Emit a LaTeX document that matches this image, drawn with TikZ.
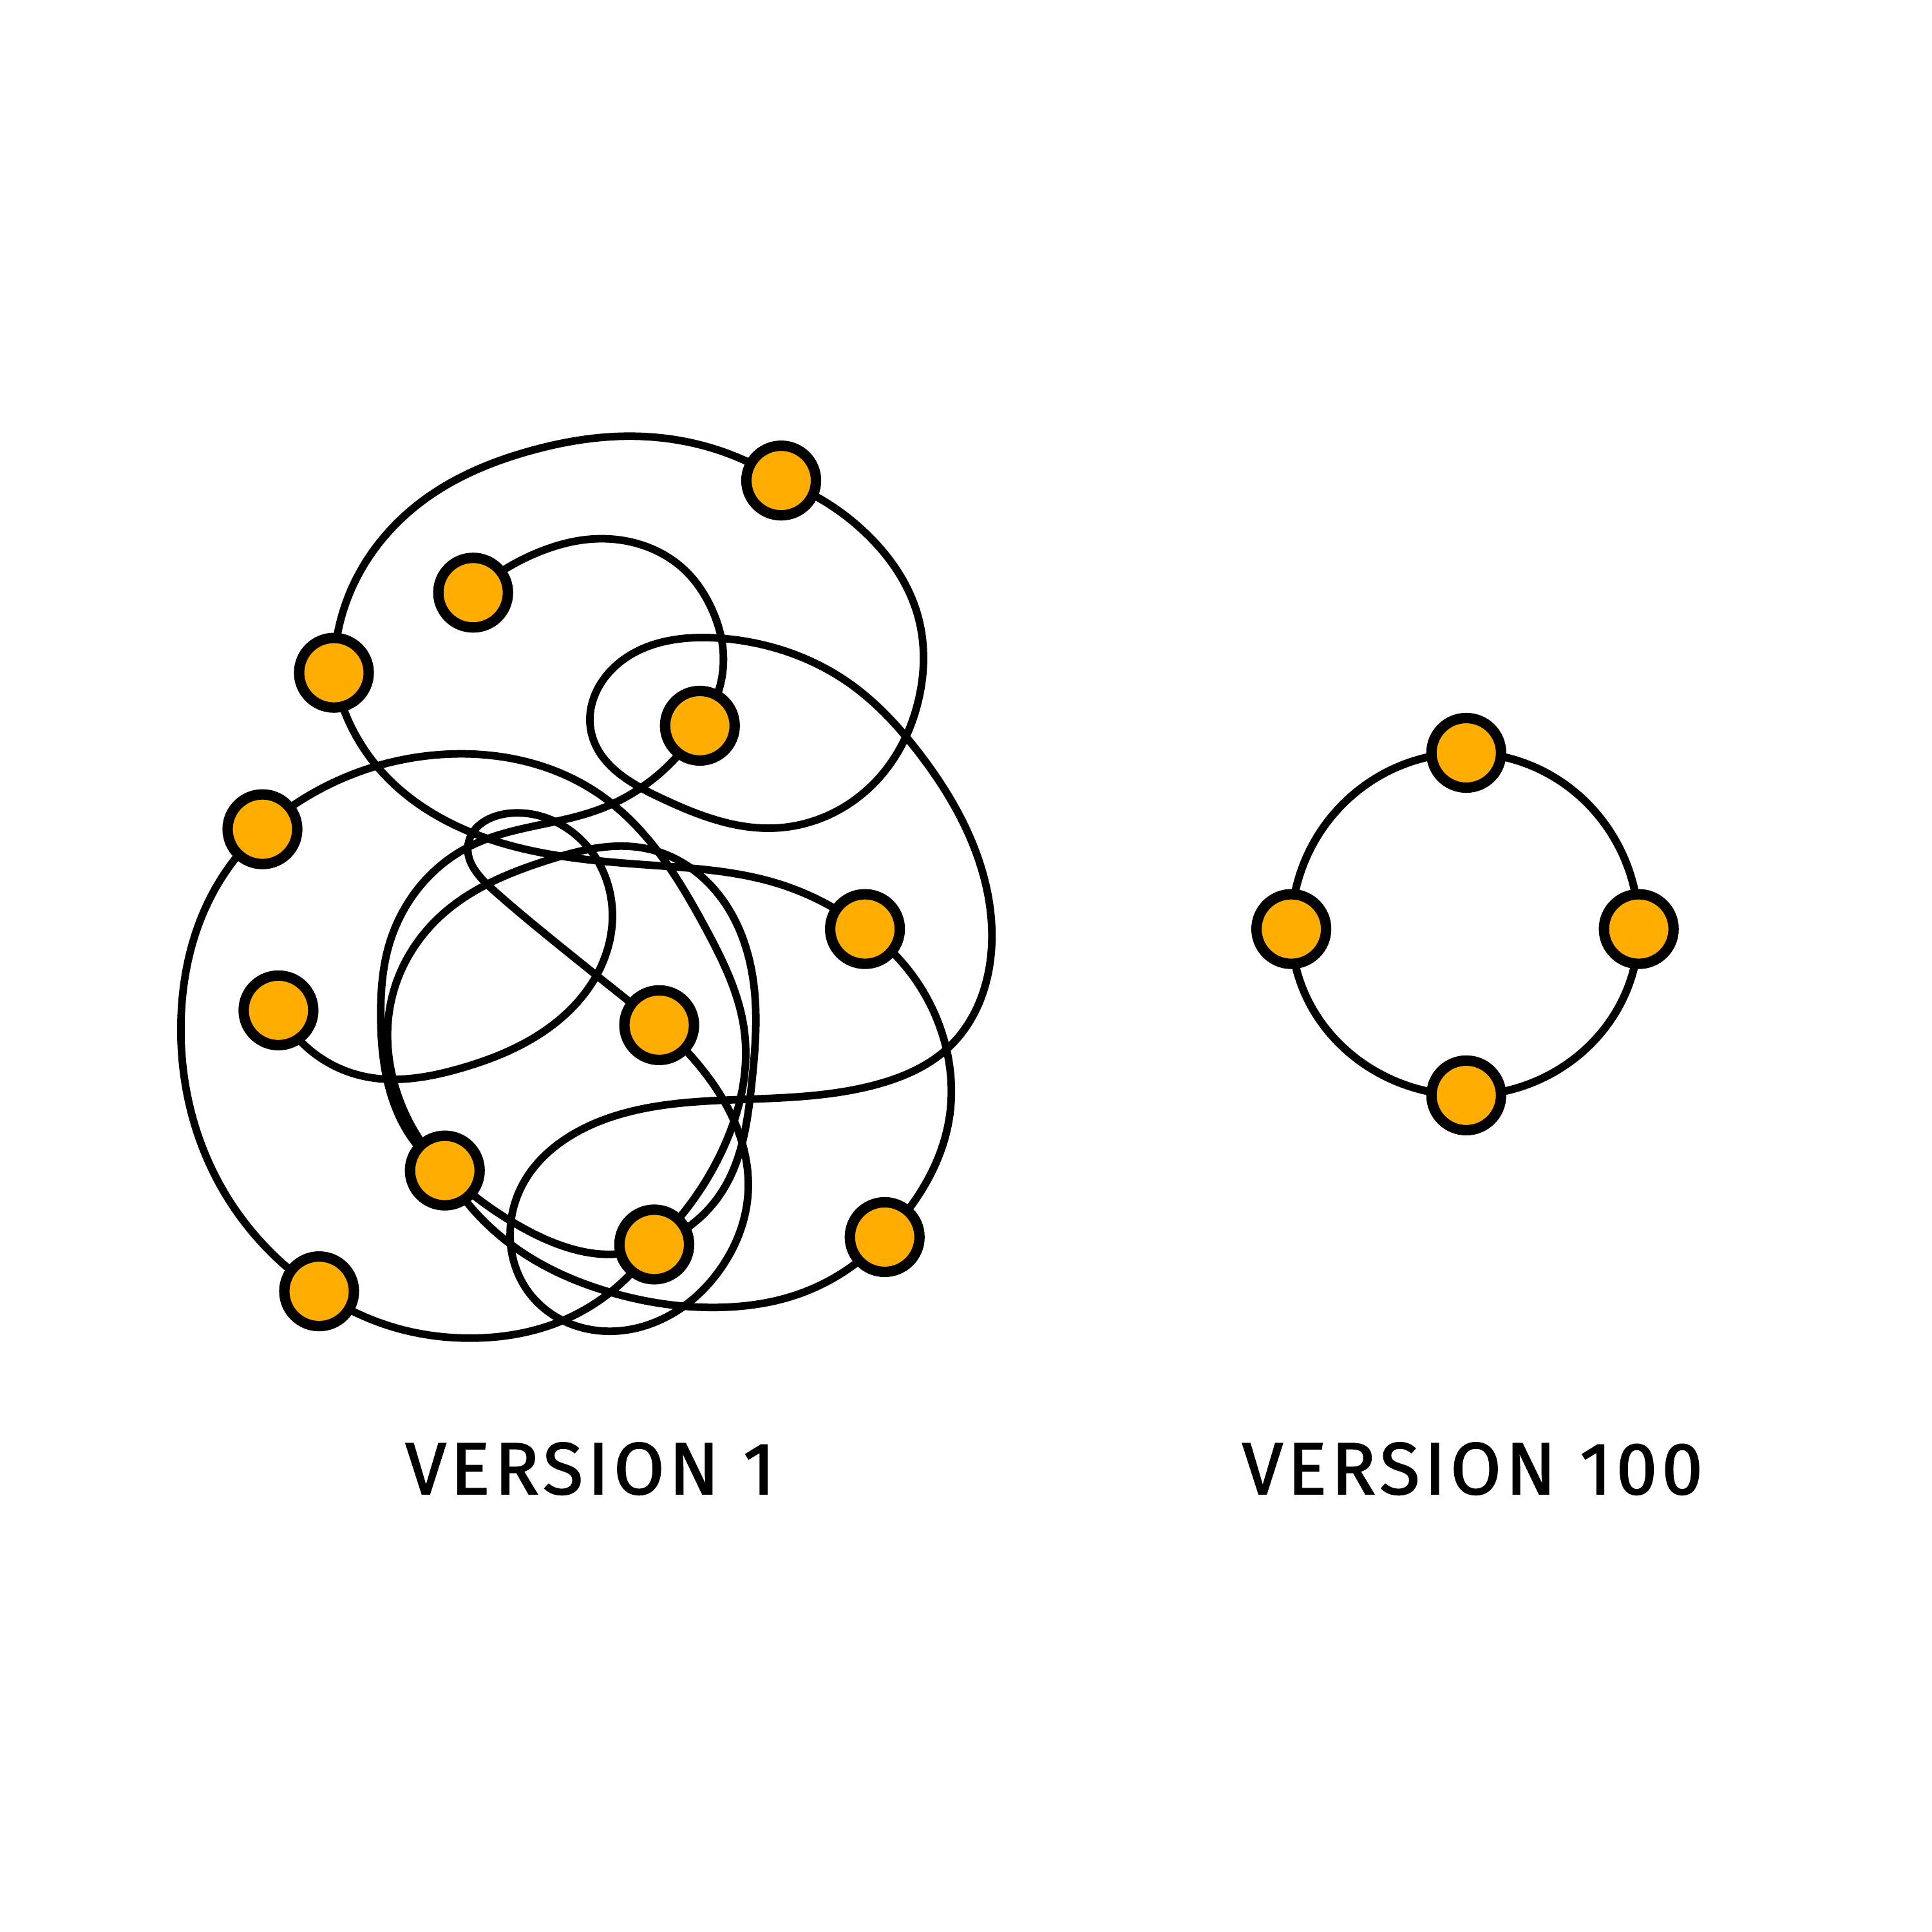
\documentclass[tikz,border=0pt]{standalone}
\usepackage{xcolor}
\usepackage{fontspec}
\newfontfamily\lblfont[LetterSpace=6,FakeBold=1.6]{Fira Sans}
\usetikzlibrary{backgrounds,hobby}
\definecolor{dotfill}{RGB}{255,173,0}

\begin{document}
\begin{tikzpicture}[
  dot/.style={circle, draw=black, line width=2.4pt, fill=dotfill, minimum size=5.65mm, inner sep=0pt},
  link/.style={draw=black, line width=1.75pt, line cap=round, use Hobby shortcut},
  ring/.style={draw=black, line width=1.8pt},
  lbl/.style={font=\lblfont\fontsize{17}{20}\selectfont}
]
\useasboundingbox (0,0) rectangle (15.68,-15.68);
% version 1: the tangle
\node[dot] (a) at (6.34,-3.90)  {};
\node[dot] (b) at (3.84,-4.81)  {};
\node[dot] (c) at (2.71,-5.46)  {};
\node[dot] (d) at (5.68,-5.89)  {};
\node[dot] (e) at (2.13,-6.73)  {};
\node[dot] (f) at (7.02,-7.54)  {};
\node[dot] (g) at (2.26,-8.20)  {};
\node[dot] (h) at (5.35,-8.32)  {};
\node[dot] (i) at (3.61,-9.50)  {};
\node[dot] (j) at (5.31,-10.10) {};
\node[dot] (k) at (7.18,-10.04) {};
\node[dot] (l) at (2.59,-10.48) {};
% version 100: the ring
\node[dot] (top)   at (11.90,-6.11) {};
\node[dot] (left)  at (10.48,-7.54) {};
\node[dot] (right) at (13.30,-7.54) {};
\node[dot] (bot)   at (11.90,-8.89) {};
\node[lbl] (v1)   at (4.79,-11.92)  {VERSION 1};
\node[lbl] (v100) at (11.95,-11.92) {VERSION 100};
\begin{pgfonlayer}{background}
\draw[link] (c.center) .. (2.88,-4.72) .. (3.45,-4.05) .. (4.30,-3.66) .. (5.10,-3.54) .. (5.85,-3.66) .. (a.center);
\draw[link] (b.center) .. (4.40,-4.47) .. (4.75,-4.38) .. (5.20,-4.42) .. (5.55,-4.62) .. (5.78,-4.95) .. (5.87,-5.30) .. (d.center);
\draw[link] (a.center) .. (7.05,-4.35) .. (7.45,-5.00) .. (7.45,-5.70) .. (7.10,-6.35) .. (6.30,-6.72)
  .. (5.35,-6.47) .. (4.80,-5.95) .. (4.95,-5.45) .. (5.85,-5.18) .. (6.90,-5.55) .. (7.45,-6.10)
  .. (7.95,-7.00) .. (8.05,-7.62) .. (7.70,-8.50) .. (7.12,-8.80) .. (6.11,-8.92) .. (5.26,-8.99)
  .. (4.66,-9.20) .. (4.26,-9.58) .. (4.14,-10.02) .. (4.30,-10.50) .. (4.86,-10.80) .. (5.46,-10.66)
  .. (5.86,-10.28) .. (6.07,-9.70) .. (5.98,-9.15) .. (5.70,-8.68) .. (h.center);
\draw[link] (d.center) .. (4.86,-6.57) .. (3.81,-6.87) .. (3.16,-7.66) .. (3.09,-8.25) .. (3.39,-9.30) .. (i.center);
\draw[link] (i.center) .. (3.21,-8.83) .. (3.18,-8.10) .. (3.58,-7.43) .. (4.45,-6.98) .. (5.26,-6.89)
  .. (5.84,-7.27) .. (6.12,-8.01) .. (6.10,-8.80) .. (5.86,-9.67) .. (j.center);
\draw[link] (e.center) .. (3.65,-6.12) .. (4.87,-6.45) .. (5.73,-7.54) .. (6.04,-8.36) .. (5.86,-9.34) .. (j.center);
\draw[link] (c.center) .. (3.06,-6.22) .. (3.86,-6.77) .. (5.26,-7.02) .. (6.31,-7.17) .. (f.center);
\draw[link] (f.center) .. (7.65,-8.40) .. (7.70,-9.10) .. (7.37,-9.82) .. (k.center);
\draw[link] (i.center) .. (4.16,-10.11) .. (4.96,-10.49) .. (5.86,-10.61) .. (6.46,-10.51) .. (k.center);
\draw[link] (i.center) .. (4.18,-9.93) .. (4.56,-10.11) .. (4.96,-10.18) .. (j.center);
\draw[link] (l.center) .. (1.75,-9.55) .. (1.47,-8.25) .. (1.70,-7.30) .. (e.center);
\draw[link] (l.center) .. (3.30,-10.80) .. (3.80,-10.86) .. (4.56,-10.72) .. (j.center);
\draw[link] (g.center) .. (2.93,-8.73) .. (3.74,-8.67) .. (4.40,-8.38) .. (4.85,-7.90) .. (4.97,-7.40)
  .. (4.70,-6.80) .. (4.14,-6.60) .. (3.80,-6.85) .. (4.00,-7.22) .. (4.56,-7.69) .. (h.center);
% ring
\draw[ring] (top.center) to[out=180,in=90] (left.center) to[out=-90,in=180] (bot.center)
  to[out=0,in=-90] (right.center) to[out=90,in=0] (top.center);
\end{pgfonlayer}
\end{tikzpicture}
\end{document}
